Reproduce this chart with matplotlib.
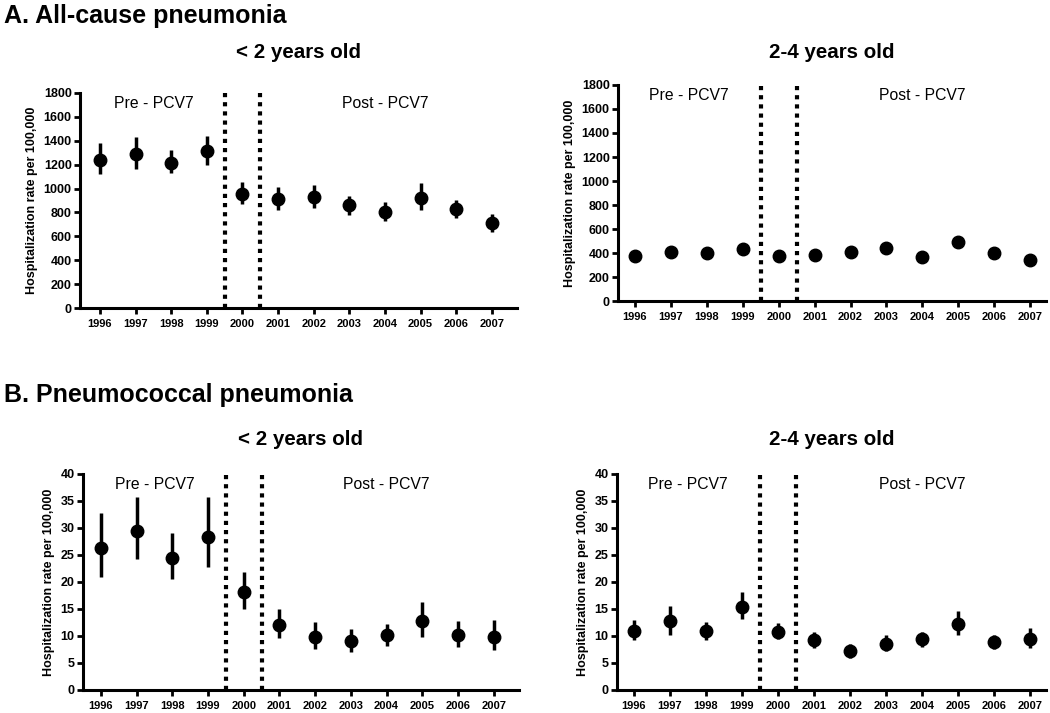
import matplotlib
matplotlib.use("Agg")
import matplotlib.pyplot as plt
import numpy as np

plt.rcParams['font.family'] = ['Liberation Sans', 'DejaVu Sans']

years = [1996, 1997, 1998, 1999, 2000, 2001, 2002, 2003, 2004, 2005, 2006, 2007]

# A. All-cause pneumonia, < 2 years
a_u2 = [1240, 1290, 1215, 1315, 955, 915, 930, 860, 805, 925, 830, 710]
a_u2_lo = [1120, 1160, 1130, 1200, 870, 820, 835, 780, 730, 820, 750, 640]
a_u2_hi = [1380, 1430, 1320, 1440, 1055, 1010, 1030, 940, 890, 1045, 905, 790]

# A. All-cause pneumonia, 2-4 years
a_24 = [375, 405, 400, 435, 375, 380, 410, 440, 370, 490, 400, 345]
a_24_lo = [350, 380, 375, 405, 350, 355, 385, 410, 345, 455, 375, 320]
a_24_hi = [400, 430, 425, 465, 400, 405, 435, 470, 395, 525, 425, 370]

# B. Pneumococcal pneumonia, < 2 years
b_u2 = [26.2, 29.4, 24.4, 28.4, 18.2, 12.0, 9.9, 9.0, 10.1, 12.7, 10.2, 9.9]
b_u2_lo = [21.0, 24.3, 20.5, 22.7, 15.0, 9.6, 7.6, 7.0, 8.1, 9.8, 7.9, 7.4]
b_u2_hi = [32.7, 35.7, 29.0, 35.7, 21.8, 15.0, 12.5, 11.2, 12.3, 16.2, 12.7, 13.0]

# B. Pneumococcal pneumonia, 2-4 years
b_24 = [11.0, 12.7, 10.9, 15.4, 10.8, 9.2, 7.2, 8.6, 9.4, 12.3, 8.8, 9.5]
b_24_lo = [9.2, 10.2, 9.2, 13.1, 9.4, 7.7, 5.9, 7.3, 8.0, 10.1, 7.5, 7.8]
b_24_hi = [13.0, 15.6, 12.6, 18.1, 12.4, 10.8, 8.6, 10.2, 10.8, 14.7, 10.2, 11.5]

panels = [
    dict(pos=[0.0762, 0.568, 0.416, 0.3016], xlim=(1995.44, 2007.7), ylim=(0, 1800),
         yticks=np.arange(0, 1801, 200), v=a_u2, lo=a_u2_lo, hi=a_u2_hi, title="< 2 years old", ty=0.927),
    dict(pos=[0.5886, 0.5778, 0.408, 0.303], xlim=(1995.53, 2007.45), ylim=(0, 1800),
         yticks=np.arange(0, 1801, 200), v=a_24, lo=a_24_lo, hi=a_24_hi, title="2-4 years old", ty=0.927),
    dict(pos=[0.079, 0.0323, 0.415, 0.303], xlim=(1995.5, 2007.7), ylim=(0, 40),
         yticks=np.arange(0, 41, 5), v=b_u2, lo=b_u2_lo, hi=b_u2_hi, title="< 2 years old", ty=0.383),
    dict(pos=[0.5876, 0.0323, 0.4085, 0.303], xlim=(1995.53, 2007.45), ylim=(0, 40),
         yticks=np.arange(0, 41, 5), v=b_24, lo=b_24_lo, hi=b_24_hi, title="2-4 years old", ty=0.383),
]

fig = plt.figure(figsize=(10.5, 7.13), dpi=100)

for p in panels:
    ax = fig.add_axes(p['pos'])
    v = np.array(p['v']); lo = np.array(p['lo']); hi = np.array(p['hi'])
    ax.errorbar(years, v, yerr=[v - lo, hi - v], fmt='o', color='black', ms=9,
                elinewidth=2.5, capsize=0, zorder=3, clip_on=False)
    ax.set_xlim(*p['xlim'])
    ax.set_ylim(*p['ylim'])
    ax.set_xticks(years)
    ax.set_xticklabels([str(y) for y in years], fontsize=8, fontweight='bold')
    ax.set_yticks(p['yticks'])
    ax.set_yticklabels([str(t) for t in p['yticks']], fontsize=9, fontweight='bold')
    for s in ['top', 'right']:
        ax.spines[s].set_visible(False)
    for s in ['left', 'bottom']:
        ax.spines[s].set_linewidth(2.2)
    ax.tick_params(axis='both', width=2, length=4, pad=2)
    ax.tick_params(axis='x', pad=4)
    ax.set_ylabel("Hospitalization rate per 100,000", fontsize=9, fontweight='bold', labelpad=4)
    for xv in (1999.5, 2000.5):
        ax.axvline(xv, color='black', linestyle=(0, (1, 1.2)), linewidth=3)
    ytop = p['ylim'][1]
    ax.text(1997.5, ytop * 0.985, "Pre - PCV7", ha='center', va='top', fontsize=11.3)
    ax.text(2004.0, ytop * 0.985, "Post - PCV7", ha='center', va='top', fontsize=11.3)
    cx = (p['pos'][0] + p['pos'][0] + p['pos'][2]) / 2
    fig.text(cx, p['ty'], p['title'], ha='center', va='center', fontsize=14.8, fontweight='bold')

fig.text(0.004, 0.978, "A. All-cause pneumonia", ha='left', va='center', fontsize=18, fontweight='bold')
fig.text(0.004, 0.446, "B. Pneumococcal pneumonia", ha='left', va='center', fontsize=18, fontweight='bold')

fig.savefig("out.png", dpi=100)
